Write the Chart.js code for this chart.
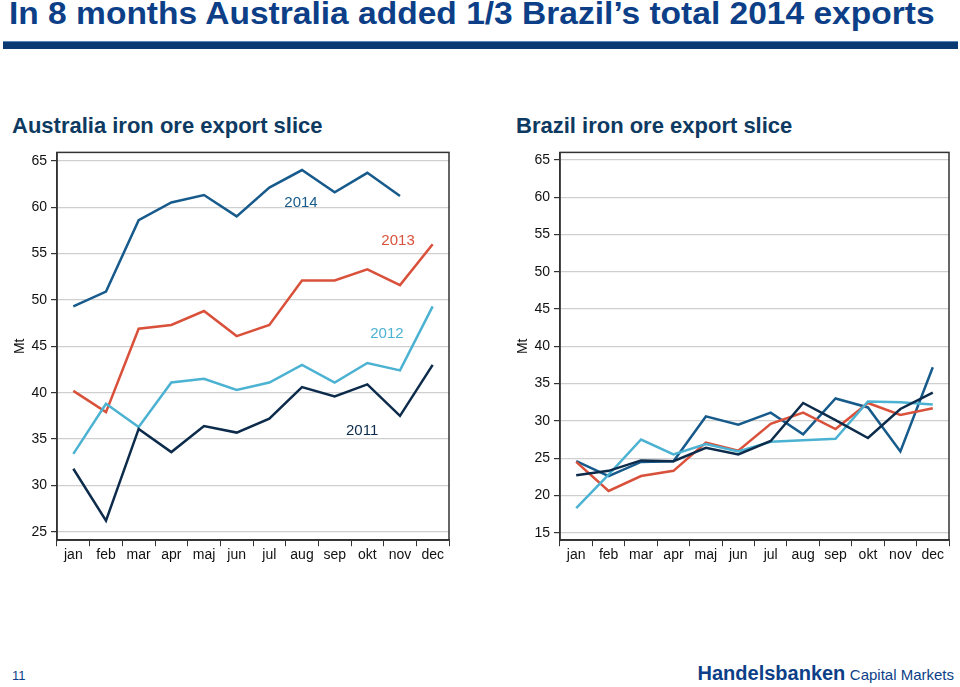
<!DOCTYPE html>
<html>
<head>
<meta charset="utf-8">
<script src="https://cdn.jsdelivr.net/npm/chart.js@4.4.1/dist/chart.umd.min.js"></script>
<style>
  body { margin:0; width:960px; height:687px; background:#fff; position:relative; overflow:hidden;
         font-family:"Liberation Sans", Arial, sans-serif; }
  #title { position:absolute; left:9px; top:-4px; font-size:31px; font-weight:bold; color:#0c3f87;
           white-space:nowrap; transform-origin:left top; }
  #bar { position:absolute; left:3px; top:41px; width:955px; height:7px; background:#0b3a72; border-top:1px solid #5a86b8; }
  .sub { position:absolute; top:113px; font-size:22px; font-weight:bold; color:#0e3a62; white-space:nowrap; }
  .box { position:absolute; top:140px; }
  #page { position:absolute; left:12px; top:668px; font-size:13px; color:#0c3f87; }
  #logo { position:absolute; right:6px; top:662px; color:#0c3f87; white-space:nowrap; }
  #logo b { font-size:20px; }
  #logo span { font-size:15px; }
</style>
</head>
<body>
<div id="title">In 8 months Australia added 1/3 Brazil’s total 2014 exports</div>
<div id="bar"></div>
<div class="sub" style="left:12px">Australia iron ore export slice</div>
<div class="sub" style="left:516px">Brazil iron ore export slice</div>
<div class="box" style="left:0px; width:470px; height:425px"><canvas id="graphAus"></canvas></div>
<div class="box" style="left:510px; width:450px; height:425px"><canvas id="graphBra"></canvas></div>
<div id="page">11</div>
<div id="logo"><b>Handelsbanken</b> <span>Capital Markets</span></div>
<script>
var months = ['jan','feb','mar','apr','maj','jun','jul','aug','sep','okt','nov','dec'];
var yTicks = [25,30,35,40,45,50,55,60,65];
var yTicksBra = [15,20,25,30,35,40,45,50,55,60,65];

// Australia, Mt per month
var aus2011 = [31.8,26.2,36.1,33.6,36.4,35.7,37.2,40.6,39.6,40.9,37.5,43.0];
var aus2012 = [33.4,38.8,36.3,41.1,41.5,40.3,41.1,43.0,41.1,43.2,42.4,49.3];
var aus2013 = [40.2,37.9,46.9,47.3,48.8,46.1,47.3,52.1,52.1,53.3,51.6,56.0];
var aus2014 = [49.3,50.9,58.6,60.5,61.3,59.0,62.1,64.0,61.6,63.7,61.2,null];

// Brazil, Mt per month
var bra2011 = [22.7,23.3,24.7,24.6,26.4,25.5,27.3,32.4,30.1,27.7,31.6,33.8];
var bra2012 = [18.3,22.8,27.5,25.5,26.9,25.9,27.2,27.4,27.6,32.6,32.5,32.2];
var bra2013 = [24.5,20.6,22.6,23.3,27.1,26.0,29.6,31.1,28.9,32.4,30.8,31.7];
var bra2014 = [24.6,22.6,24.5,24.6,30.6,29.5,31.1,28.2,33.0,31.8,25.9,37.2];

// line labels on the Australia chart (category index, value)
var labelText = ['2011','2012','2013','2014'];
var labelX = [8.84, 9.6, 9.94, 6.97];
var labelY = [35.9, 46.3, 56.4, 60.5];

var colors = { y2011:'#0d2c4c', y2012:'#4cb2d2', y2013:'#d9513b', y2014:'#175a8c' };

// stretch the headline to the slide width
var t = document.getElementById('title');
t.style.transform = 'scaleX(' + (926 / t.offsetWidth) + ')';

var boxPlugin = {
  id: 'boxPlugin',
  afterDraw: function(chart) {
    var a = chart.chartArea, ctx = chart.ctx;
    ctx.save();
    ctx.strokeStyle = '#333';
    ctx.lineWidth = 1.5;
    ctx.strokeRect(a.left, a.top, a.right - a.left, a.bottom - a.top);
    ctx.restore();
  }
};

var tagPlugin = {
  id: 'tagPlugin',
  afterDatasetsDraw: function(chart, args, opts) {
    if (!opts.show) return;
    var ctx = chart.ctx, xs = chart.scales.x, ys = chart.scales.y;
    var cols = [colors.y2011, colors.y2012, colors.y2013, colors.y2014];
    ctx.save();
    ctx.font = '15px "Liberation Sans", Arial, sans-serif';
    ctx.textAlign = 'center';
    ctx.textBaseline = 'middle';
    for (var i = 0; i < labelText.length; i++) {
      ctx.fillStyle = cols[i];
      ctx.fillText(labelText[i], xs.getPixelForValue(labelX[i]), ys.getPixelForValue(labelY[i]));
    }
    ctx.restore();
  }
};

function serie(label, data, color) {
  return {
    label: label,
    data: data,
    borderColor: color,
    backgroundColor: color,
    borderWidth: 2.5,
    pointRadius: 0,
    tension: 0,
    spanGaps: false
  };
}

var tickFont = { size: 14, family: '"Liberation Sans", Arial' };

function makeOptions(min, max, ticks, showTags, padLeft, padRight, yWidth) {
  return {
    responsive: true,
    maintainAspectRatio: false,
    animation: false,
    layout: { padding: { top: 12, right: padRight, bottom: 0, left: padLeft } },
    scales: {
      x: {
        offset: true,
        grid: { display: true, drawOnChartArea: false, offset: true, tickLength: 6, tickColor: '#333', color: '#333' },
        border: { display: true, color: '#333', width: 1.5 },
        ticks: { color: '#111', font: tickFont, padding: 1, maxRotation: 0 }
      },
      y: {
        min: min, max: max,
        afterBuildTicks: function(scale) { scale.ticks = ticks.map(function(v){ return { value: v }; }); },
        afterFit: function(scale) { scale.width = yWidth; },
        grid: { color: '#cfcfcf', lineWidth: 1.2, tickLength: 6, tickColor: '#333' },
        border: { display: true, color: '#333', width: 1.5 },
        ticks: { color: '#111', font: tickFont, padding: 4 },
        title: { display: true, text: 'Mt', color: '#111', font: tickFont, padding: 0 }
      }
    },
    plugins: {
      legend: { display: false },
      tooltip: { enabled: false },
      tagPlugin: { show: showTags }
    }
  };
}

new Chart(document.getElementById('graphAus').getContext('2d'), {
  type: 'line',
  data: {
    labels: months,
    datasets: [
      serie('2011', aus2011, colors.y2011),
      serie('2012', aus2012, colors.y2012),
      serie('2013', aus2013, colors.y2013),
      serie('2014', aus2014, colors.y2014)
    ]
  },
  options: makeOptions(24.1, 65.9, yTicks, true, 12, 21, 45),
  plugins: [boxPlugin, tagPlugin]
});

new Chart(document.getElementById('graphBra').getContext('2d'), {
  type: 'line',
  data: {
    labels: months,
    datasets: [
      serie('2011', bra2011, colors.y2011),
      serie('2012', bra2012, colors.y2012),
      serie('2013', bra2013, colors.y2013),
      serie('2014', bra2014, colors.y2014)
    ]
  },
  options: makeOptions(14, 66, yTicksBra, false, 5, 11, 45),
  plugins: [boxPlugin, tagPlugin]
});
</script>
</body>
</html>
